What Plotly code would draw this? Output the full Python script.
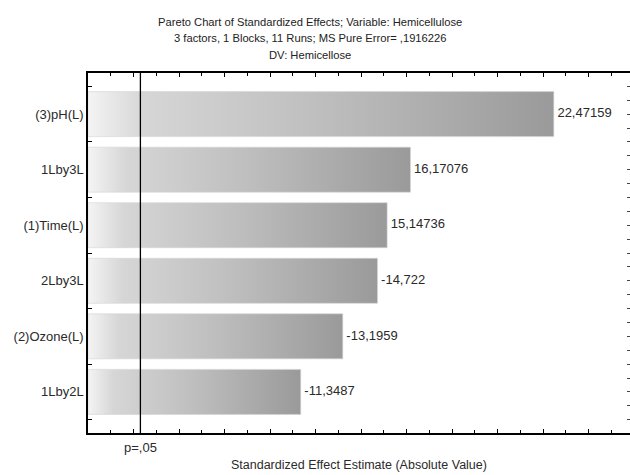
import plotly.graph_objects as go

effects = ["(3)pH(L)", "1Lby3L", "(1)Time(L)", "2Lby3L", "(2)Ozone(L)", "1Lby2L"]
estimates = [22.47159, 16.17076, 15.14736, -14.722, -13.1959, -11.3487]
value_labels = ["22,47159", "16,17076", "15,14736", "-14,722", "-13,1959", "-11,3487"]
p_crit = 4.303
p_label = "p=,05"
title_lines = ["Pareto Chart of Standardized Effects; Variable: Hemicellulose",
               "3 factors, 1 Blocks, 11 Runs; MS Pure Error= ,1916226",
               "DV: Hemicellose"]
x_title = "Standardized Effect Estimate (Absolute Value)"

x_min, x_max = 2.0, 25.82
half = 0.405
pos = list(range(len(effects)))

fig = go.Figure()
for i, v in enumerate(estimates):
    a = abs(v)
    fig.add_trace(go.Scatter(
        x=[x_min, a, a, x_min, x_min],
        y=[i - half, i - half, i + half, i + half, i - half],
        mode="lines", line=dict(width=0.6, color="#d4d4d4"),
        fill="toself",
        fillgradient=dict(type="horizontal",
                          colorscale=[[0, "#f4f4f4"], [0.12, "#d6d6d6"], [0.5, "#bebebe"], [1, "#9a9a9a"]]),
        hoverinfo="skip", showlegend=False))

fig.add_trace(go.Scatter(
    x=[abs(v) for v in estimates], y=pos, mode="text",
    text=[" " + t for t in value_labels], textposition="middle right",
    textfont=dict(family="Liberation Sans, Arial", size=13, color="#2a2a2a"),
    showlegend=False, hoverinfo="skip", cliponaxis=False))

# invisible trace for right tick axis
fig.add_trace(go.Scatter(x=[x_min], y=[0], yaxis="y2", mode="markers",
                         marker=dict(opacity=0), showlegend=False, hoverinfo="skip"))

fig.add_shape(type="line", x0=p_crit, x1=p_crit, y0=0, y1=1, yref="paper",
              line=dict(color="black", width=1.3))

annotations = []
for txt, ys in zip(title_lines, [51, 35, 18]):
    annotations.append(dict(text=txt, x=(310 - 88) / 542, xref="paper", xanchor="center",
                            y=1, yref="paper", yanchor="middle", yshift=ys, showarrow=False,
                            font=dict(size=11.2, color="#222222")))
annotations.append(dict(text=p_label, x=p_crit, xref="x", xanchor="center", y=0, yref="paper",
                        yanchor="middle", yshift=-14, showarrow=False,
                        font=dict(size=13, color="#2a2a2a")))
annotations.append(dict(text=x_title, x=0.5, xref="paper", xanchor="center", y=0, yref="paper",
                        yanchor="middle", yshift=-32, showarrow=False,
                        font=dict(size=12.5, color="#2a2a2a")))

fig.update_layout(
    width=630, height=475,
    margin=dict(l=88, r=0, t=73, b=42),
    paper_bgcolor="white", plot_bgcolor="white",
    font=dict(family="Liberation Sans, Arial", size=13, color="#2a2a2a"),
    xaxis=dict(range=[x_min, x_max], showgrid=False, zeroline=False,
               showline=True, linecolor="black", linewidth=1.5, mirror="ticks",
               tick0=2, dtick=2, ticks="inside", ticklen=4, tickcolor="black",
               showticklabels=False,
               minor=dict(dtick=1, tick0=2, ticks="inside", ticklen=3, tickcolor="black")),
    yaxis=dict(range=[5.74, -0.74], showgrid=False, zeroline=False,
               showline=True, linecolor="black", linewidth=1.5,
               tickmode="array", tickvals=pos, ticktext=effects, ticks="",
               tickfont=dict(size=13, color="#2a2a2a"),
               minor=dict(tickmode="array", tickvals=[p + 0.5 for p in [-1] + pos],
                          ticks="inside", ticklen=4, tickcolor="black")),
    yaxis2=dict(overlaying="y", side="right", range=[5.74, -0.74], showgrid=False,
                zeroline=False, showline=False, showticklabels=False,
                tick0=0.5, dtick=0.25, ticks="inside", ticklen=3, tickcolor="#444"),
    annotations=annotations,
)

fig.write_html("out.html", config={"displayModeBar": False},
               post_script="document.body.style.margin='0px';")
